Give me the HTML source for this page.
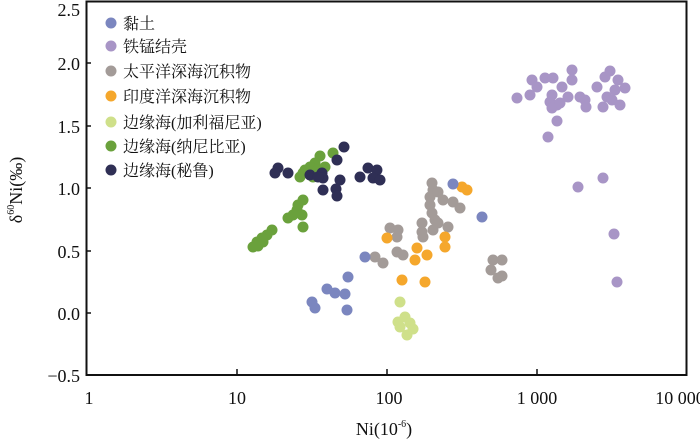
<!DOCTYPE html>
<html><head><meta charset="utf-8"><style>
html,body{margin:0;padding:0;background:#fff;}
svg{display:block;}
text{font-family:"Liberation Serif","Noto Serif CJK SC",serif;fill:#111;}
</style></head><body>
<svg width="700" height="440" viewBox="0 0 700 440" xmlns="http://www.w3.org/2000/svg">
<rect x="86.5" y="1.5" width="600" height="373.5" fill="none" stroke="#111" stroke-width="2"/>
<g stroke="#111" stroke-width="1.5">
<line x1="86" y1="63" x2="91" y2="63"/><line x1="86" y1="126" x2="91" y2="126"/><line x1="86" y1="188" x2="91" y2="188"/><line x1="86" y1="251" x2="91" y2="251"/><line x1="86" y1="313" x2="91" y2="313"/>
<line x1="237" y1="375" x2="237" y2="369"/><line x1="387" y1="375" x2="387" y2="369"/><line x1="537" y1="375" x2="537" y2="369"/>
</g>
<g font-size="18" text-anchor="end">
<text x="80" y="16">2.5</text><text x="80" y="70">2.0</text><text x="80" y="133">1.5</text><text x="80" y="195">1.0</text><text x="80" y="258">0.5</text><text x="80" y="320">0.0</text><text x="80" y="382">−0.5</text>
</g>
<g font-size="18" text-anchor="middle">
<text x="89" y="404">1</text><text x="237" y="404">10</text><text x="389" y="404">100</text><text x="537" y="404">1 000</text><text x="680" y="404">10 000</text>
</g>
<text x="384" y="435" font-size="18" text-anchor="middle">Ni(10<tspan font-size="10" dy="-8">-6</tspan><tspan dy="8">)</tspan></text>
<text transform="translate(22,190) rotate(-90)" font-size="18" text-anchor="middle">δ<tspan font-size="10" dy="-8">60</tspan><tspan dy="8">Ni(‰)</tspan></text>
<g font-size="16">
<circle cx="111" cy="23" r="5.5" fill="#7b86bf"/><text x="123" y="29">黏土</text>
<circle cx="111" cy="46" r="5.5" fill="#a895c6"/><text x="123" y="52">铁锰结壳</text>
<circle cx="111" cy="71" r="5.5" fill="#a39b98"/><text x="123" y="77">太平洋深海沉积物</text>
<circle cx="111" cy="96" r="5.5" fill="#f5a72c"/><text x="123" y="102">印度洋深海沉积物</text>
<circle cx="111" cy="122" r="5.5" fill="#cfe08a"/><text x="123" y="128">边缘海(加利福尼亚)</text>
<circle cx="111" cy="146" r="5.5" fill="#6aa13c"/><text x="123" y="152">边缘海(纳尼比亚)</text>
<circle cx="111" cy="170" r="5.5" fill="#2f2f55"/><text x="123" y="176">边缘海(秘鲁)</text>
</g>
<g fill="#a895c6">
<circle cx="517" cy="98" r="5.5"/><circle cx="530" cy="95" r="5.5"/><circle cx="532" cy="80" r="5.5"/><circle cx="537" cy="87" r="5.5"/><circle cx="545" cy="78" r="5.5"/><circle cx="553" cy="78" r="5.5"/><circle cx="572" cy="70" r="5.5"/><circle cx="572" cy="80" r="5.5"/><circle cx="562" cy="87" r="5.5"/><circle cx="568" cy="97" r="5.5"/><circle cx="552" cy="95" r="5.5"/><circle cx="550" cy="102" r="5.5"/><circle cx="557" cy="105" r="5.5"/><circle cx="552" cy="108" r="5.5"/><circle cx="560" cy="103" r="5.5"/><circle cx="580" cy="97" r="5.5"/><circle cx="585" cy="100" r="5.5"/><circle cx="586" cy="107" r="5.5"/><circle cx="557" cy="121" r="5.5"/><circle cx="548" cy="137" r="5.5"/><circle cx="597" cy="87" r="5.5"/><circle cx="605" cy="77" r="5.5"/><circle cx="610" cy="71" r="5.5"/><circle cx="618" cy="80" r="5.5"/><circle cx="625" cy="88" r="5.5"/><circle cx="615" cy="90" r="5.5"/><circle cx="607" cy="97" r="5.5"/><circle cx="603" cy="107" r="5.5"/><circle cx="612" cy="100" r="5.5"/><circle cx="620" cy="105" r="5.5"/><circle cx="578" cy="187" r="5.5"/><circle cx="603" cy="178" r="5.5"/><circle cx="614" cy="234" r="5.5"/><circle cx="617" cy="282" r="5.5"/>
</g>
<g fill="#6aa13c">
<circle cx="320" cy="156" r="5.5"/><circle cx="333" cy="153" r="5.5"/><circle cx="315" cy="163" r="5.5"/><circle cx="310" cy="167" r="5.5"/><circle cx="305" cy="170" r="5.5"/><circle cx="300" cy="177" r="5.5"/><circle cx="303" cy="173" r="5.5"/><circle cx="325" cy="167" r="5.5"/><circle cx="318" cy="170" r="5.5"/><circle cx="313" cy="177" r="5.5"/><circle cx="303" cy="200" r="5.5"/><circle cx="298" cy="205" r="5.5"/><circle cx="297" cy="210" r="5.5"/><circle cx="293" cy="215" r="5.5"/><circle cx="288" cy="218" r="5.5"/><circle cx="302" cy="215" r="5.5"/><circle cx="303" cy="227" r="5.5"/><circle cx="272" cy="230" r="5.5"/><circle cx="267" cy="235" r="5.5"/><circle cx="262" cy="238" r="5.5"/><circle cx="257" cy="242" r="5.5"/><circle cx="253" cy="247" r="5.5"/><circle cx="263" cy="242" r="5.5"/><circle cx="258" cy="246" r="5.5"/>
</g>
<g fill="#2f2f55">
<circle cx="278" cy="168" r="5.5"/><circle cx="275" cy="173" r="5.5"/><circle cx="288" cy="173" r="5.5"/><circle cx="310" cy="175" r="5.5"/><circle cx="322" cy="173" r="5.5"/><circle cx="323" cy="178" r="5.5"/><circle cx="318" cy="177" r="5.5"/><circle cx="337" cy="160" r="5.5"/><circle cx="344" cy="147" r="5.5"/><circle cx="340" cy="180" r="5.5"/><circle cx="323" cy="190" r="5.5"/><circle cx="336" cy="189" r="5.5"/><circle cx="337" cy="196" r="5.5"/><circle cx="360" cy="177" r="5.5"/><circle cx="368" cy="168" r="5.5"/><circle cx="377" cy="170" r="5.5"/><circle cx="373" cy="178" r="5.5"/><circle cx="380" cy="180" r="5.5"/>
</g>
<g fill="#a39b98">
<circle cx="432" cy="183" r="5.5"/><circle cx="433" cy="190" r="5.5"/><circle cx="430" cy="197" r="5.5"/><circle cx="438" cy="192" r="5.5"/><circle cx="443" cy="200" r="5.5"/><circle cx="453" cy="202" r="5.5"/><circle cx="460" cy="208" r="5.5"/><circle cx="430" cy="205" r="5.5"/><circle cx="432" cy="213" r="5.5"/><circle cx="435" cy="220" r="5.5"/><circle cx="438" cy="223" r="5.5"/><circle cx="433" cy="230" r="5.5"/><circle cx="448" cy="227" r="5.5"/><circle cx="422" cy="223" r="5.5"/><circle cx="422" cy="232" r="5.5"/><circle cx="423" cy="237" r="5.5"/><circle cx="390" cy="228" r="5.5"/><circle cx="398" cy="230" r="5.5"/><circle cx="397" cy="237" r="5.5"/><circle cx="397" cy="252" r="5.5"/><circle cx="403" cy="255" r="5.5"/><circle cx="375" cy="257" r="5.5"/><circle cx="383" cy="263" r="5.5"/><circle cx="493" cy="260" r="5.5"/><circle cx="502" cy="260" r="5.5"/><circle cx="491" cy="270" r="5.5"/><circle cx="502" cy="276" r="5.5"/><circle cx="498" cy="278" r="5.5"/>
</g>
<g fill="#f5a72c">
<circle cx="462" cy="187" r="5.5"/><circle cx="467" cy="190" r="5.5"/><circle cx="387" cy="238" r="5.5"/><circle cx="417" cy="248" r="5.5"/><circle cx="427" cy="255" r="5.5"/><circle cx="415" cy="260" r="5.5"/><circle cx="445" cy="237" r="5.5"/><circle cx="445" cy="247" r="5.5"/><circle cx="402" cy="280" r="5.5"/><circle cx="425" cy="282" r="5.5"/>
</g>
<g fill="#7b86bf">
<circle cx="453" cy="184" r="5.5"/><circle cx="482" cy="217" r="5.5"/><circle cx="365" cy="257" r="5.5"/><circle cx="348" cy="277" r="5.5"/><circle cx="327" cy="289" r="5.5"/><circle cx="335" cy="293" r="5.5"/><circle cx="345" cy="294" r="5.5"/><circle cx="312" cy="302" r="5.5"/><circle cx="315" cy="308" r="5.5"/><circle cx="347" cy="310" r="5.5"/>
</g>
<g fill="#cfe08a">
<circle cx="400" cy="302" r="5.5"/><circle cx="405" cy="317" r="5.5"/><circle cx="398" cy="322" r="5.5"/><circle cx="400" cy="327" r="5.5"/><circle cx="410" cy="323" r="5.5"/><circle cx="413" cy="329" r="5.5"/><circle cx="407" cy="335" r="5.5"/>
</g>
</svg>
</body></html>
